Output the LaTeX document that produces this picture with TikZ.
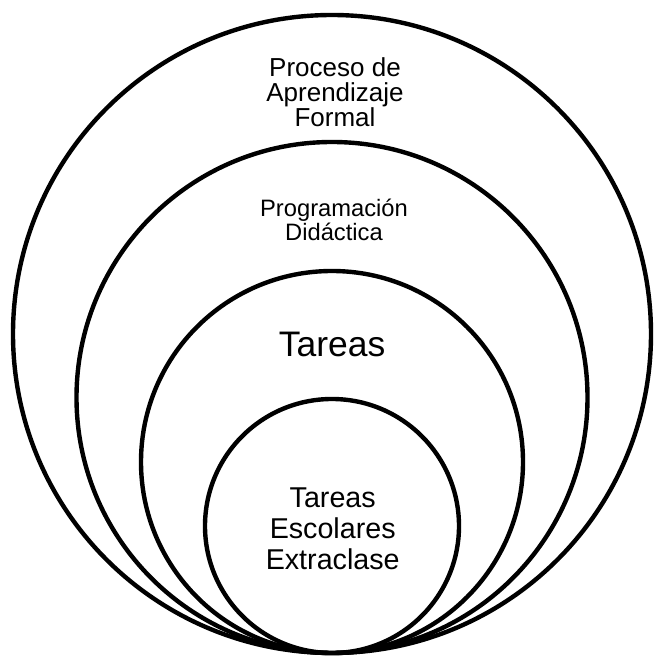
\documentclass[tikz,border=0pt]{standalone}
\usepackage{fontspec}
\setmainfont{Liberation Sans}
\usetikzlibrary{positioning}

\begin{document}
\begin{tikzpicture}[
    x=0.75pt, y=0.75pt,
    ring/.style={draw=black, line width=3.3pt},
    ringtext/.style={align=center, inner sep=0pt, font=#1}
]
\useasboundingbox (0,0) rectangle (656,657);

% all circles touch at the bottom
\coordinate (touch) at (332,4);
\coordinate (cformal) at (332,323);
\coordinate (cprog) at (332,259.5);
\coordinate (ctareas) at (332,195);
\coordinate (cextra) at (332,131);

\draw[ring] (cformal) circle[radius=319];
\draw[ring] (cprog) circle[radius=255.5];
\draw[ring] (ctareas) circle[radius=191];
\draw[ring] (cextra) circle[radius=127];

% labels
\node[ringtext=\fontsize{19.5}{18.5}\selectfont] (formal) at (335,564.8) {Proceso de\\Aprendizaje\\Formal};
\node[ringtext=\fontsize{17.8}{18}\selectfont] (prog) at (334,437.6) {Programación\\Didáctica};
\node[ringtext=\fontsize{26.6}{30}\selectfont] (tareas) at (332,313) {Tareas};
\node[ringtext=\fontsize{21.5}{23.2}\selectfont] (extra) at (332.7,128) {Tareas\\Escolares\\Extraclase};

\end{tikzpicture}
\end{document}
